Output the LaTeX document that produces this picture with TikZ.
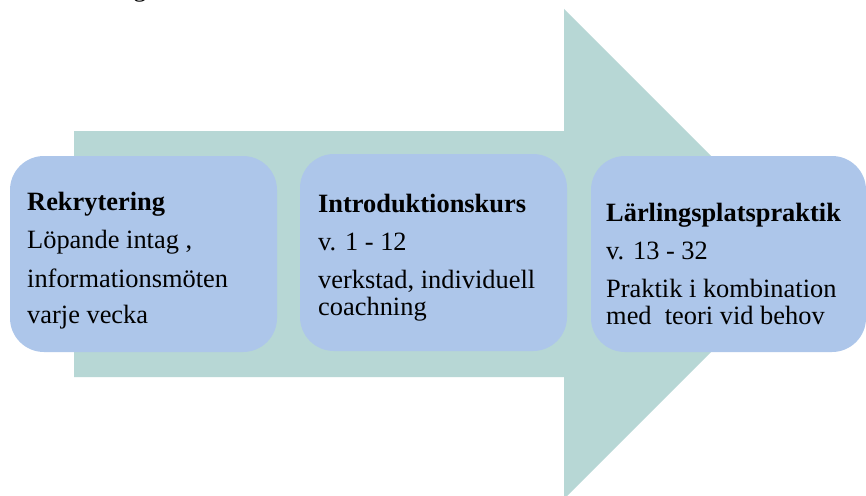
\documentclass[tikz,border=0pt]{standalone}
\usepackage{fontspec}
\setmainfont{Liberation Serif}
\definecolor{arrowteal}{HTML}{B7D7D5}
\definecolor{boxblue}{HTML}{ADC6EA}
\begin{document}
\begin{tikzpicture}[x=1pt,y=-1pt,
  stagebox/.style={fill=boxblue, draw=none, rounded corners=34pt, inner sep=0pt, rectangle},
  txt/.style={anchor=base west, inner sep=0pt, font=\fontsize{26.4}{27}\selectfont},
  hd/.style={anchor=base west, inner sep=0pt, font=\fontsize{26.4}{27}\selectfont\bfseries}]
\useasboundingbox (0,0) rectangle (866,495);
\fill[white] (0,0) rectangle (866,495);
% big arrow
\fill[arrowteal] (74,131) -- (564,131) -- (564,9) -- (809,254) -- (564,499) -- (564,377) -- (74,377) -- cycle;
% partial caption text at the top edge
\node[anchor=base, inner sep=0pt, font=\fontsize{26.4}{27}\selectfont] (cap) at (140,-3) {g};
% boxes
\node[stagebox, minimum width=267pt, minimum height=196pt] (b1) at (143.5,254) {};
\node[stagebox, minimum width=267pt, minimum height=197pt] (b2) at (433.5,252.5) {};
\node[stagebox, minimum width=275pt, minimum height=196pt] (b3) at (728.5,254) {};
% box 1 text
\node[hd]  (t11) at (27,210) {Rekrytering};
\node[txt] (t12) at (27,248) {Löpande intag ,};
\node[txt] (t13) at (27,287) {informationsmöten};
\node[txt] (t14) at (27,323) {varje vecka};
% box 2 text
\node[hd]  (t21) at (318,212) {Introduktionskurs};
\node[txt] (t22) at (318,250) {v. 1 - 12};
\node[txt] (t23) at (318,288) {verkstad, individuell};
\node[txt] (t24) at (318,315) {coachning};
% box 3 text
\node[hd]  (t31) at (606,221) {Lärlingsplatspraktik};
\node[txt] (t32) at (606,259) {v. 13 - 32};
\node[txt] (t33) at (606,297) {Praktik i kombination};
\node[txt] (t34) at (606,324) {med\ \ teori vid behov};
\end{tikzpicture}
\end{document}
